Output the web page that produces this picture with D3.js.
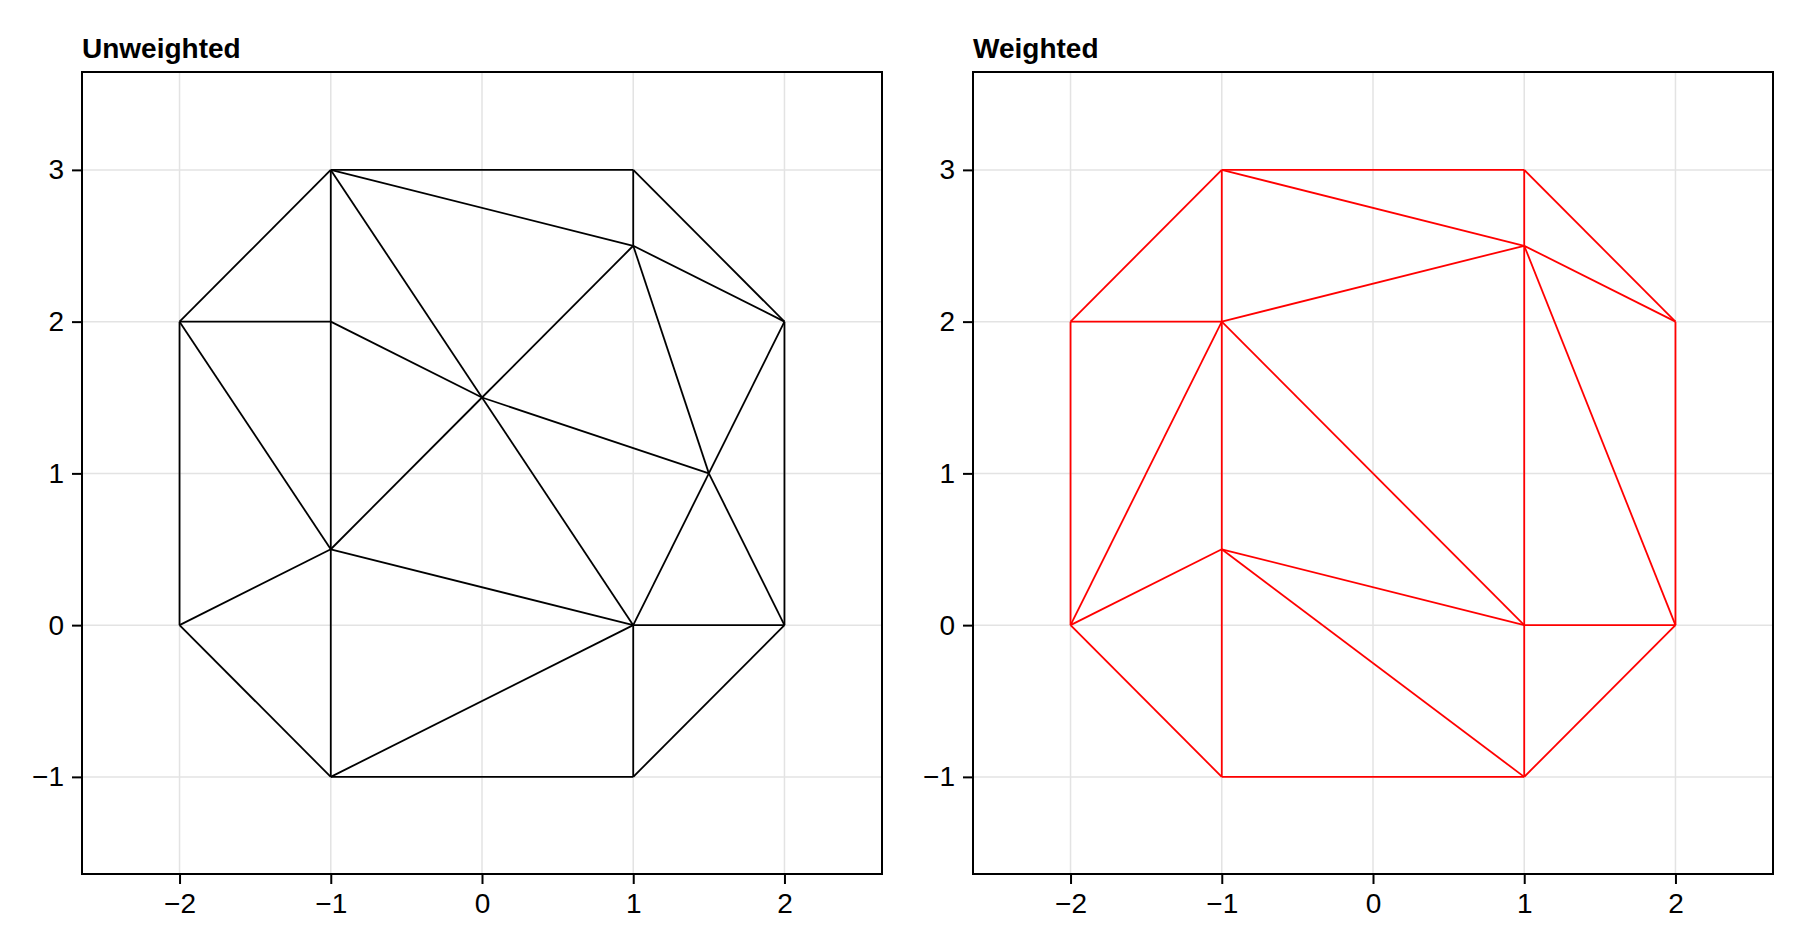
<!DOCTYPE html>
<html><head><meta charset="utf-8">
<script src="https://cdn.jsdelivr.net/npm/d3@7"></script>
<style>body{margin:0;background:#fff}text{font-family:"Liberation Sans",Arial,sans-serif}</style>
</head><body><div id="chart"></div>
<script>
const xTicks = [-2, -1, 0, 1, 2]
const yTicks = [-1, 0, 1, 2, 3]
const unweightedEdges = [
  [[-1,3],[1,3]], [[-1,3],[1,2.5]], [[1,3],[1,2.5]], [[1,3],[2,2]], [[-1,3],[-2,2]],
  [[-1,3],[-1,2]], [[-1,3],[0,1.5]], [[1,2.5],[2,2]], [[1,2.5],[0,1.5]], [[1,2.5],[1.5,1]],
  [[2,2],[1.5,1]], [[2,2],[2,0]], [[-2,2],[-1,2]], [[-2,2],[-1,0.5]], [[-2,2],[-2,0]],
  [[-1,2],[0,1.5]], [[-1,2],[-1,0.5]], [[0,1.5],[-1,0.5]], [[0,1.5],[1.5,1]], [[0,1.5],[1,0]],
  [[1.5,1],[1,0]], [[1.5,1],[2,0]], [[-1,0.5],[-2,0]], [[-1,0.5],[1,0]], [[-1,0.5],[-1,-1]],
  [[-2,0],[-1,-1]], [[1,0],[2,0]], [[1,0],[-1,-1]], [[1,0],[1,-1]], [[2,0],[1,-1]], [[-1,-1],[1,-1]]
]
const weightedEdges = [
  [[-1,3],[1,3]], [[-1,3],[1,2.5]], [[1,3],[1,2.5]], [[1,3],[2,2]], [[-1,3],[-2,2]],
  [[-1,3],[-1,2]], [[1,2.5],[2,2]], [[-1,2],[1,2.5]], [[1,2.5],[1,0]], [[1,2.5],[2,0]],
  [[2,2],[2,0]], [[-2,2],[-1,2]], [[-2,2],[-2,0]], [[-1,2],[-2,0]], [[-1,2],[-1,0.5]],
  [[-1,2],[1,0]], [[-1,0.5],[-2,0]], [[-1,0.5],[1,0]], [[-1,0.5],[1,-1]], [[-1,0.5],[-1,-1]],
  [[-2,0],[-1,-1]], [[1,0],[2,0]], [[1,0],[1,-1]], [[2,0],[1,-1]], [[-1,-1],[1,-1]]
]

const svg = d3.select('#chart').append('svg').attr('width', 1800).attr('height', 952)

function panel(left, title, edges, color) {
  const top = 72, w = 800, h = 802
  const x = d3.scaleLinear().domain([-2.645, 2.645]).range([left, left + w])
  const y = d3.scaleLinear().domain([-1.64, 3.645]).range([top + h, top])
  const g = svg.append('g')

  g.selectAll('.gx').data(xTicks).join('line')
    .attr('x1', d => x(d)).attr('x2', d => x(d)).attr('y1', top).attr('y2', top + h)
    .attr('stroke', '#e3e3e3').attr('stroke-width', 1.5)
  g.selectAll('.gy').data(yTicks).join('line').attr('class', 'gy')
    .attr('y1', d => y(d)).attr('y2', d => y(d)).attr('x1', left).attr('x2', left + w)
    .attr('stroke', '#e3e3e3').attr('stroke-width', 1.5)

  g.append('g').selectAll('line').data(edges).join('line')
    .attr('x1', d => x(d[0][0])).attr('y1', d => y(d[0][1]))
    .attr('x2', d => x(d[1][0])).attr('y2', d => y(d[1][1]))
    .attr('stroke', color).attr('stroke-width', 1.8)

  g.append('rect').attr('x', left).attr('y', top).attr('width', w).attr('height', h)
    .attr('fill', 'none').attr('stroke', '#000').attr('stroke-width', 2)

  const fmt = d => String(d).replace('-', '\u2212')
  const xa = g.append('g').attr('transform', `translate(0,${top + h})`)
    .call(d3.axisBottom(x).tickValues(xTicks).tickFormat(fmt).tickSize(10).tickPadding(9))
  const ya = g.append('g').attr('transform', `translate(${left},0)`)
    .call(d3.axisLeft(y).tickValues(yTicks).tickFormat(fmt).tickSize(10).tickPadding(8))
  for (const a of [xa, ya]) {
    a.select('.domain').remove()
    a.selectAll('line').attr('stroke-width', 2)
    a.selectAll('text').attr('font-size', 28).attr('font-family', '"Liberation Sans",Arial,sans-serif')
  }

  g.append('text').attr('x', left).attr('y', top - 14).text(title)
    .attr('font-size', 28).attr('font-weight', 'bold')
}

panel(82, 'Unweighted', unweightedEdges, '#000')
panel(973, 'Weighted', weightedEdges, '#ff0000')
</script></body></html>
